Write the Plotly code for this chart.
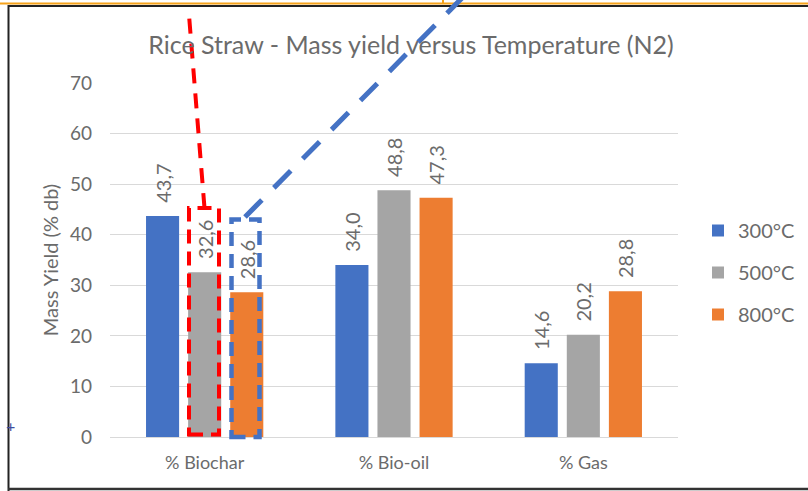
import plotly.graph_objects as go

# Product fractions from rice straw pyrolysis under N2
categories = ["% Biochar", "% Bio-oil", "% Gas"]
temperatures = ["300°C", "500°C", "800°C"]
yield_300 = [43.7, 34.0, 14.6]
yield_500 = [32.6, 48.8, 20.2]
yield_800 = [28.6, 47.3, 28.8]
y_ticks = [0, 10, 20, 30, 40, 50, 60, 70]

colors = ["#4472C4", "#A5A5A5", "#ED7D31"]
text_gray = "#6b6b6b"
font_family = "Lato, Carlito, Calibri, sans-serif"

W, H = 808, 491
L, R, T, B = 110, 678, 83, 437   # plot area in pixels


def px_x(x):
    return (x - L) / (R - L)


def px_y(y):
    return (B - y) / (B - T)


fig = go.Figure()
for i, (name, vals) in enumerate(zip(temperatures, [yield_300, yield_500, yield_800])):
    fig.add_trace(go.Bar(
        x=categories, y=vals, name=name,
        marker=dict(color=colors[i], line=dict(width=0)),
        # leading no-break spaces keep the rotated label clear of the bar top
        texttemplate="\u00a0\u00a0%{y:.1f}", textposition="outside", textangle=-90,
        constraintext="none",
        textfont=dict(family=font_family, size=20, color=text_gray),
        cliponaxis=False, legendgroup=name,
    ))

shapes = []
# frame around the chart
shapes.append(dict(type="line", xref="paper", yref="paper",
                   x0=px_x(0), x1=px_x(W), y0=px_y(3.5), y1=px_y(3.5),
                   line=dict(color="#F5A21B", width=2)))
shapes.append(dict(type="line", xref="paper", yref="paper",
                   x0=px_x(443), x1=px_x(443), y0=px_y(0), y1=px_y(4),
                   line=dict(color="#F5A21B", width=2)))
shapes.append(dict(type="line", xref="paper", yref="paper",
                   x0=px_x(8), x1=px_x(W), y0=px_y(6), y1=px_y(6),
                   line=dict(color="#222222", width=2)))
shapes.append(dict(type="line", xref="paper", yref="paper",
                   x0=px_x(8.5), x1=px_x(8.5), y0=px_y(5), y1=px_y(491),
                   line=dict(color="#222222", width=2)))
shapes.append(dict(type="line", xref="paper", yref="paper",
                   x0=px_x(8), x1=px_x(W), y0=px_y(489), y1=px_y(489),
                   line=dict(color="#333333", width=2.5)))

# highlight boxes and pointer lines
shapes.append(dict(type="rect", xref="paper", yref="paper",
                   x0=px_x(189), x1=px_x(219), y0=px_y(434.5), y1=px_y(208),
                   line=dict(color="#FF0000", width=4, dash="14px,8px")))
shapes.append(dict(type="line", xref="paper", yref="paper",
                   x0=px_x(204.5), x1=px_x(189), y0=px_y(208), y1=px_y(15),
                   line=dict(color="#FF0000", width=4, dash="15px,10px")))
shapes.append(dict(type="rect", xref="paper", yref="paper",
                   x0=px_x(231.5), x1=px_x(259.5), y0=px_y(437), y1=px_y(219.5),
                   line=dict(color="#4472C4", width=4.5, dash="14px,8px")))
shapes.append(dict(type="line", xref="paper", yref="paper",
                   x0=px_x(245), x1=px_x(464), y0=px_y(217), y1=px_y(-4),
                   line=dict(color="#4472C4", width=5, dash="24px,17px")))

annotations = [dict(text="+", xref="paper", yref="paper", x=px_x(4), y=px_y(437),
                    showarrow=False, font=dict(size=16, color="#3F4F9F", family=font_family))]

fig.update_layout(
    width=W, height=H,
    margin=dict(l=L, r=W - R, t=T, b=H - B, pad=0, autoexpand=False),
    paper_bgcolor="white", plot_bgcolor="white",
    separators=",.",
    barmode="group", bargap=0.333, bargroupgap=0.214,
    title=dict(text="Rice Straw - Mass yield versus Temperature (N2)",
               xref="container", x=411 / W, xanchor="center",
               yref="container", y=1 - 45 / H, yanchor="middle",
               font=dict(family=font_family, size=25, color=text_gray)),
    font=dict(family=font_family, color=text_gray),
    legend=dict(x=px_x(698), xanchor="left", y=px_y(211), yanchor="top",
                font=dict(size=20, color=text_gray), tracegroupgap=13,
                bgcolor="rgba(0,0,0,0)"),
    xaxis=dict(showline=False, ticks="", showgrid=False,
               tickfont=dict(size=18, color=text_gray), ticklabelstandoff=13),
    yaxis=dict(range=[0, 70], tickvals=y_ticks, showgrid=True, gridcolor="#D9D9D9",
               gridwidth=1, zeroline=True, zerolinecolor="#D9D9D9", zerolinewidth=1,
               showline=False, ticks="", tickfont=dict(size=19, color=text_gray),
               ticklabelstandoff=17, automargin=False,
               title=dict(text="Mass Yield (% db)", standoff=5,
                          font=dict(size=20, color=text_gray))),
    shapes=shapes, annotations=annotations,
)

fig.write_html("out.html")
